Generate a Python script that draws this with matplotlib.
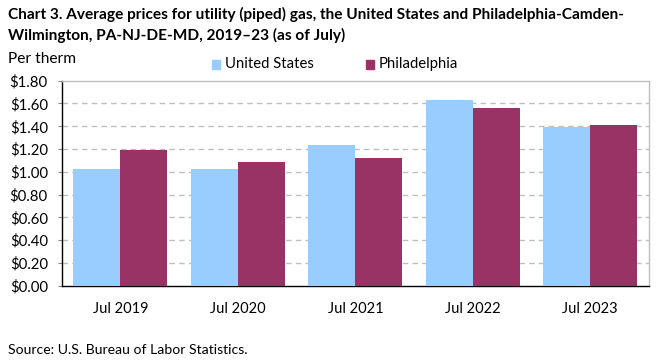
import matplotlib
matplotlib.use("Agg")
import matplotlib.pyplot as plt
import numpy as np
from matplotlib.patches import Rectangle

categories = ["Jul 2019", "Jul 2020", "Jul 2021", "Jul 2022", "Jul 2023"]
us_values = [1.025, 1.025, 1.235, 1.630, 1.390]
phila_values = [1.191, 1.086, 1.121, 1.560, 1.411]
series_names = ["United States", "Philadelphia"]
y_ticks = [0.0, 0.2, 0.4, 0.6, 0.8, 1.0, 1.2, 1.4, 1.6, 1.8]
y_tick_labels = [f"${v:.2f}" for v in y_ticks]

blue = "#99CCFF"
maroon = "#993366"
font = "Lato"

fig = plt.figure(figsize=(6.61, 3.61), dpi=100)
ax = fig.add_axes([61.7 / 661, (361 - 285.7) / 361, (649 - 61.7) / 661, (285.7 - 80.7) / 361])

x = np.arange(len(categories))
w = 0.4
ax.bar(x - w / 2, us_values, width=w, color=blue, zorder=3)
ax.bar(x + w / 2, phila_values, width=w, color=maroon, zorder=3)

ax.set_xlim(-0.5, len(categories) - 0.5)
ax.set_ylim(0, 1.8)
ax.set_yticks(y_ticks)
ax.set_yticklabels(y_tick_labels, fontfamily=font, fontsize=10.7)
ax.set_xticks(x)
ax.set_xticklabels(categories, fontfamily=font, fontsize=10.5)
ax.tick_params(axis="x", length=0, pad=12)
ax.tick_params(axis="y", length=3, width=0.8, color="#888888", pad=7)

for v in y_ticks[1:-1]:
    ax.axhline(v, color="#BFBFBF", linestyle=(0, (4, 3)), linewidth=1.0, zorder=1)

for side in ["top", "right"]:
    ax.spines[side].set_color("#BFBFBF")
    ax.spines[side].set_linewidth(1.0)
for side in ["left", "bottom"]:
    ax.spines[side].set_color("black")
    ax.spines[side].set_linewidth(1.0)

fig.text(8 / 661, 1 - 14 / 361,
         "Chart 3. Average prices for utility (piped) gas, the United States and Philadelphia-Camden-",
         fontfamily=font, fontweight="bold", fontsize=11.05, va="center", ha="left")
fig.text(8 / 661, 1 - 35 / 361,
         "Wilmington, PA-NJ-DE-MD, 2019\u201323 (as of July)",
         fontfamily=font, fontweight="bold", fontsize=11.05, va="center", ha="left")
fig.text(8 / 661, 1 - 59 / 361, "Per therm", fontfamily=font, fontsize=11.2, va="center", ha="left")

# legend
for (lx, name, col) in [(212, series_names[0], blue), (366, series_names[1], maroon)]:
    fig.patches.append(Rectangle((lx / 661, 1 - 69 / 361), 8 / 661, 9 / 361,
                                 transform=fig.transFigure, color=col))
    fig.text((lx + 13) / 661, 1 - 64 / 361, name, fontfamily=font, fontsize=10.7,
             va="center", ha="left")

fig.text(8 / 661, 1 - 350 / 361, "Source: U.S. Bureau of Labor Statistics.",
         fontfamily=font, fontsize=10.1, va="center", ha="left")

fig.savefig("out.png", dpi=100)
